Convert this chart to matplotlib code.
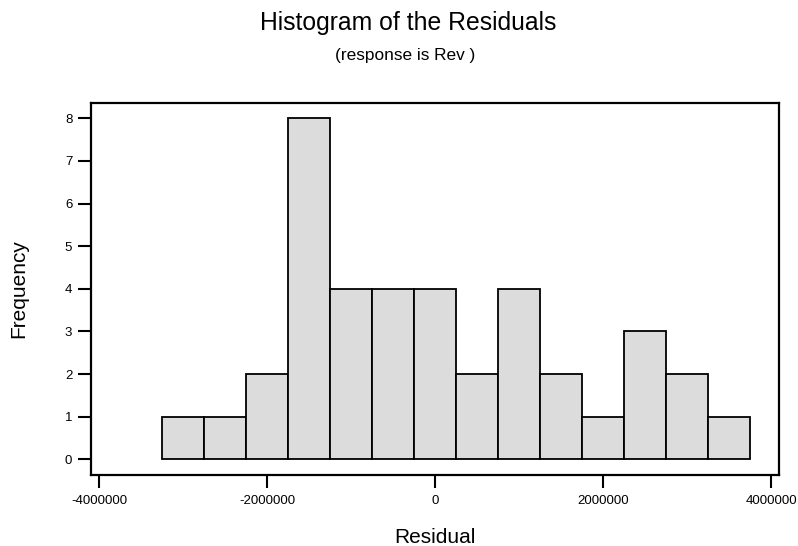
import matplotlib
matplotlib.use('Agg')
import matplotlib.pyplot as plt

plt.rcParams['font.family'] = ['Liberation Sans', 'DejaVu Sans']

# residual histogram (Minitab style), bins of 500000 centred on multiples of 500000
bin_centers = [-3000000, -2500000, -2000000, -1500000, -1000000, -500000, 0,
               500000, 1000000, 1500000, 2000000, 2500000, 3000000, 3500000]
counts = [1, 1, 2, 8, 4, 4, 4, 2, 4, 2, 1, 3, 2, 1]
bin_width = 500000

x_ticks = [-4000000, -2000000, 0, 2000000, 4000000]
y_ticks = [0, 1, 2, 3, 4, 5, 6, 7, 8]

fig = plt.figure(figsize=(7.98, 5.46), dpi=100)
ax = fig.add_axes([91/798, 1 - 475/546, (779 - 91)/798, (475 - 103)/546])

ax.bar(bin_centers, counts, width=bin_width, color='#DCDCDC',
       edgecolor='black', linewidth=1.3)

ax.set_xlim(-4095000, 4095000)
ax.set_ylim(-0.37, 8.36)
ax.set_xticks(x_ticks)
ax.set_xticklabels([str(t) for t in x_ticks])
ax.set_yticks(y_ticks)

for s in ax.spines.values():
    s.set_linewidth(1.6)
ax.tick_params(axis='both', direction='out', length=9.5, width=1.5, labelsize=9.5)
ax.tick_params(axis='x', pad=5)
ax.tick_params(axis='y', pad=4)

ax.set_xlabel('Residual', fontsize=15, labelpad=15)
ax.set_ylabel('Frequency', fontsize=15, labelpad=26)

fig.text(0.511, 0.958, 'Histogram of the Residuals', fontsize=17.8,
         ha='center', va='center')
fig.text(0.508, 0.899, '(response is Rev )', fontsize=12.4,
         ha='center', va='center')

fig.savefig('out.png', dpi=100)
